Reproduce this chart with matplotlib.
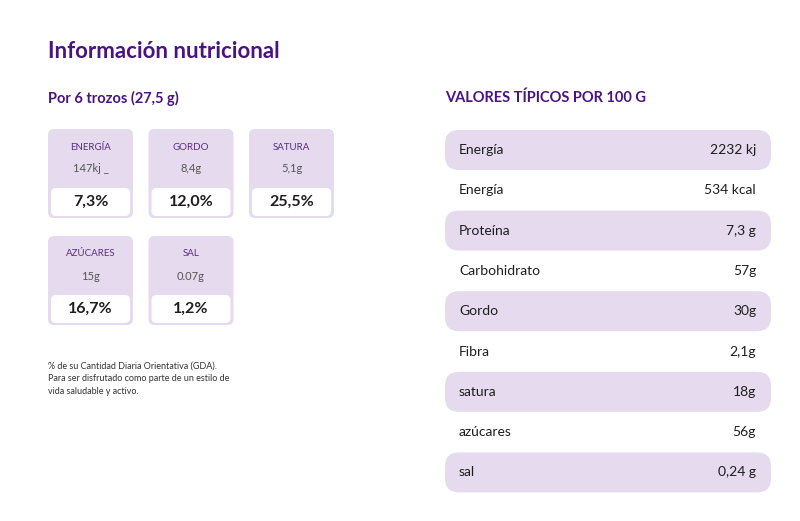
import matplotlib
matplotlib.use('Agg')
import matplotlib.pyplot as plt
from matplotlib.patches import FancyBboxPatch

# Per-portion cards
card_labels = ['ENERGÍA', 'GORDO', 'SATURA', 'AZÚCARES', 'SAL']
card_amounts = ['147kj _', '8,4g', '5,1g', '15g', '0.07g']
card_pcts = ['7,3%', '12,0%', '25,5%', '16,7%', '1,2%']

# Typical values per 100 g
row_labels = ['Energía', 'Energía', 'Proteína', 'Carbohidrato', 'Gordo',
              'Fibra', 'satura', 'azúcares', 'sal']
row_values = ['2232 kj', '534 kcal', '7,3 g', '57g', '30g',
              '2,1g', '18g', '56g', '0,24 g']

purple = '#4a1480'
lilac = '#e5daee'
dark = '#1e1e1e'
plt.rcParams['font.family'] = 'Lato'

fig = plt.figure(figsize=(8, 5.21), dpi=100)
ax = fig.add_axes([0, 0, 1, 1])
ax.set_xlim(0, 800)
ax.set_ylim(521, 0)
ax.axis('off')

ax.text(48, 52, 'Información nutricional', fontsize=16, fontweight='bold',
        color=purple, va='center')
ax.text(48, 98, 'Por 6 trozos (27,5 g)', fontsize=10.5, fontweight='bold',
        color=purple, va='center')
ax.text(445, 98, 'VALORES TÍPICOS POR 100 G', fontsize=10.5, fontweight='bold',
        color=purple, va='center')

for i, (lab, amt, pct) in enumerate(zip(card_labels, card_amounts, card_pcts)):
    x0 = 48 + (i % 3) * 100.5
    y0 = 129 + (i // 3) * 107
    ax.add_patch(FancyBboxPatch((x0, y0), 85, 89, boxstyle='round,pad=0,rounding_size=6',
                                fc=lilac, ec='none'))
    ax.add_patch(FancyBboxPatch((x0 + 3, y0 + 59), 79, 28,
                                boxstyle='round,pad=0,rounding_size=5', fc='white', ec='none'))
    ax.text(x0 + 42.5, y0 + 18, lab, fontsize=7, color='#5a2d82', ha='center', va='center')
    ax.text(x0 + 42.5, y0 + 40, amt, fontsize=8, color='#555555', ha='center', va='center')
    ax.text(x0 + 42.5, y0 + 73, pct, fontsize=11.5, fontweight='bold', color=dark,
            ha='center', va='center')

foot = ['% de su Cantidad Diaria Orientativa (GDA).',
        'Para ser disfrutado como parte de un estilo de',
        'vida saludable y activo.']
for k, line in enumerate(foot):
    ax.text(48, 366 + k * 12.5, line, fontsize=6.5, color='#333333', va='center')

for j, (lab, val) in enumerate(zip(row_labels, row_values)):
    yc = 150 + j * 40.3
    if j % 2 == 0:
        ax.add_patch(FancyBboxPatch((445, yc - 20), 326, 40,
                                    boxstyle='round,pad=0,rounding_size=14', fc=lilac, ec='none'))
    ax.text(459, yc, lab, fontsize=10, color=dark, va='center')
    ax.text(756, yc, val, fontsize=10, color=dark, va='center', ha='right')

plt.savefig('out.png', dpi=100)
